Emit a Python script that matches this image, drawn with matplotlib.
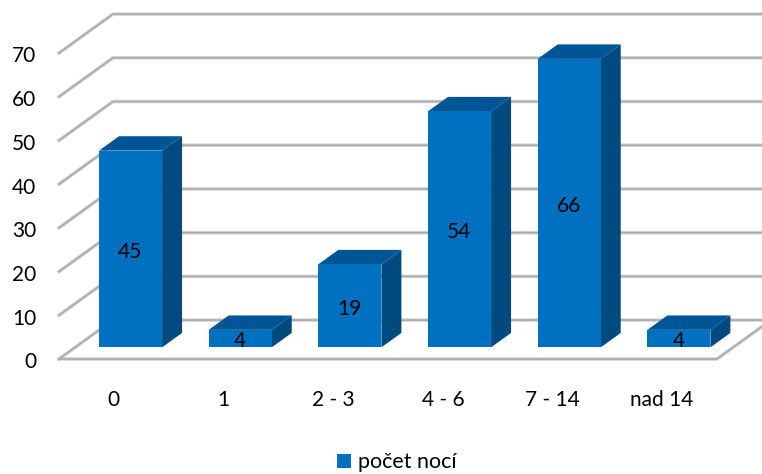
import matplotlib
matplotlib.use('Agg')
import matplotlib.pyplot as plt
from matplotlib.patches import Patch, Polygon
from matplotlib.transforms import ScaledTranslation

categories = ['0', '1', '2 - 3', '4 - 6', '7 - 14', 'nad 14']
nights = [45, 4, 19, 54, 66, 4]
y_ticks = [0, 10, 20, 30, 40, 50, 60, 70]
series_name = 'počet nocí'

plt.rcParams['font.family'] = ['Lato', 'DejaVu Sans']

FRONT = '#0070c0'
TOP = '#005596'
SIDE = '#004a80'
GRID = '#a8a8a8'
GRID_SOFT = '#d4d4d4'

# oblique depth of the whole floor, in data units
DEPTH_X = 0.492
DEPTH_Y = 8.9
BAR_W = 0.575
BAR_D0 = 0.30
BAR_D1 = 0.67


def proj(x, y, d):
    return (x + d * DEPTH_X, y + d * DEPTH_Y)


def soft_line(ax, pts):
    xs = [p[0] for p in pts]
    ys = [p[1] for p in pts]
    ax.plot(xs, ys, color=GRID_SOFT, lw=2.6, clip_on=False, zorder=1)
    ax.plot(xs, ys, color=GRID, lw=1.1, clip_on=False, zorder=2)


fig = plt.figure(figsize=(7.62, 4.74), dpi=100)
ax = fig.add_axes([59 / 762, 115 / 474, 658 / 762, 306 / 474])
ax.set_xlim(-0.5, 5.5)
ax.set_ylim(0, 70)
for s in ax.spines.values():
    s.set_visible(False)

# walls and floor
for t in y_ticks:
    soft_line(ax, [proj(-0.5, t, 0), proj(-0.5, t, 1), proj(5.5, t, 1)])
soft_line(ax, [proj(-0.5, 0, 0), proj(5.5, 0, 0), proj(5.5, 0, 1)])

# bars
for i, v in enumerate(nights):
    x0 = i - BAR_W / 2 + 0.005
    x1 = i + BAR_W / 2 + 0.005
    front = [proj(x0, 0, BAR_D0), proj(x1, 0, BAR_D0), proj(x1, v, BAR_D0), proj(x0, v, BAR_D0)]
    top = [proj(x0, v, BAR_D0), proj(x1, v, BAR_D0), proj(x1, v, BAR_D1), proj(x0, v, BAR_D1)]
    side = [proj(x1, 0, BAR_D0), proj(x1, 0, BAR_D1), proj(x1, v, BAR_D1), proj(x1, v, BAR_D0)]
    ax.add_patch(Polygon(side, fc=SIDE, ec='none', clip_on=False, zorder=3))
    ax.add_patch(Polygon(top, fc=TOP, ec='none', clip_on=False, zorder=3))
    ax.add_patch(Polygon(front, fc=FRONT, ec='none', clip_on=False, zorder=4))
    ax.annotate(str(v), proj(i, v / 2, BAR_D0), xytext=(0, -2), textcoords='offset points',
                ha='center', va='center', fontsize=15, color='black', zorder=5)

ax.set_xticks(range(len(categories)))
ax.set_xticklabels(categories)
ax.set_yticks(y_ticks)
ax.tick_params(axis='x', length=0, pad=22, labelsize=15)
ax.tick_params(axis='y', length=0, pad=16.5, labelsize=15)
for lab in ax.get_yticklabels():
    lab.set_transform(lab.get_transform() + ScaledTranslation(0, -1 / 72, fig.dpi_scale_trans))

handle = Patch(facecolor=FRONT, edgecolor='none')
fig.legend([handle], [series_name], loc='center', bbox_to_anchor=(397 / 762, 11.5 / 474),
           frameon=False, fontsize=15.5, handlelength=0.65, handleheight=0.65, handletextpad=0.3,
           borderpad=0)

fig.savefig('out.png', dpi=100)
